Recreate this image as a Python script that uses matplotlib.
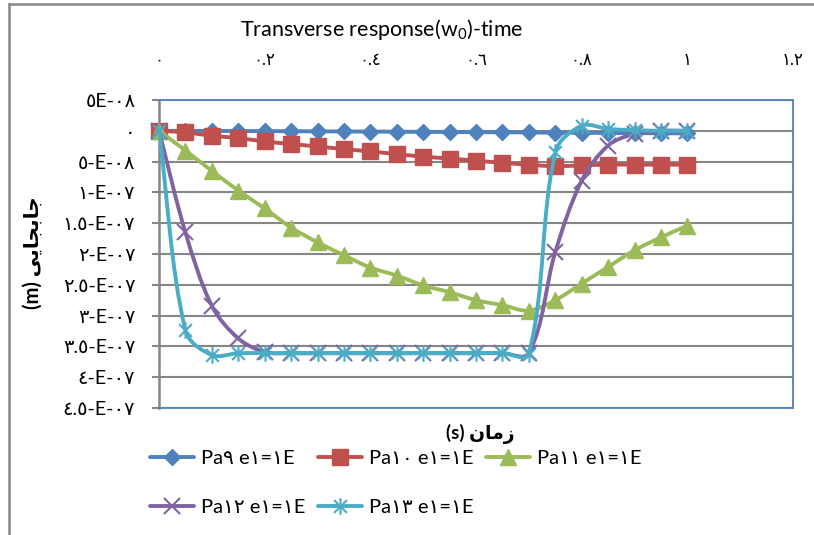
import matplotlib
matplotlib.use('Agg')
import matplotlib.pyplot as plt
from matplotlib.path import Path
from matplotlib.patches import PathPatch
from matplotlib.lines import Line2D
import numpy as np

plt.rcParams['font.family'] = ['Lato', 'DejaVu Sans']
plt.rcParams['mathtext.fontset'] = 'custom'
plt.rcParams['mathtext.rm'] = 'Lato'
plt.rcParams['mathtext.it'] = 'Lato:italic'

# ---------------- data ----------------
time = [0.00, 0.05, 0.10, 0.15, 0.20, 0.25, 0.30, 0.35, 0.40, 0.45, 0.50,
        0.55, 0.60, 0.65, 0.70, 0.75, 0.80, 0.85, 0.90, 0.95, 1.00]

pa9 = [0, -0.1e-9, -0.2e-9, -0.4e-9, -0.5e-9, -0.7e-9, -0.9e-9, -1.1e-9, -1.3e-9, -1.5e-9, -1.7e-9,
       -2.0e-9, -2.2e-9, -2.4e-9, -2.7e-9, -3.0e-9, -3.2e-9, -3.5e-9, -3.8e-9, -4.0e-9, -4.3e-9]
pa10 = [0, -2.7e-9, -8.1e-9, -11.8e-9, -17.3e-9, -21.5e-9, -25.4e-9, -29.7e-9, -33.5e-9, -37.8e-9, -42.0e-9,
        -45.0e-9, -48.5e-9, -52.0e-9, -55.0e-9, -57.5e-9, -56.0e-9, -55.0e-9, -55.0e-9, -55.0e-9, -55.0e-9]
pa11 = [0, -32e-9, -65e-9, -97e-9, -126e-9, -157e-9, -181e-9, -202e-9, -222e-9, -235e-9, -251e-9,
        -262e-9, -275e-9, -283e-9, -292e-9, -275e-9, -248e-9, -221e-9, -194e-9, -173e-9, -154e-9]
pa12 = [0, -165e-9, -284e-9, -337e-9, -359e-9, -361e-9, -361e-9, -361e-9, -361e-9, -361e-9, -361e-9,
        -361e-9, -361e-9, -361e-9, -361e-9, -197e-9, -81e-9, -24e-9, -5e-9, 0, 0]
pa13 = [0, -324e-9, -364e-9, -361e-9, -361e-9, -361e-9, -361e-9, -361e-9, -361e-9, -361e-9, -361e-9,
        -361e-9, -361e-9, -361e-9, -362e-9, -35e-9, 8e-9, 3e-9, 1e-9, 0, 0]

series_values = [pa9, pa10, pa11, pa12, pa13]
series_labels = ['Pa\u0669 e\u0661=\u0661E', 'Pa\u0661\u0660 e\u0661=\u0661E', 'Pa\u0661\u0661 e\u0661=\u0661E',
                 'Pa\u0661\u0662 e\u0661=\u0661E', 'Pa\u0661\u0663 e\u0661=\u0661E']

x_ticks = [0, 0.2, 0.4, 0.6, 0.8, 1.0, 1.2]
x_tick_labels = ['\u0660', '\u0660.\u0662', '\u0660.\u0664', '\u0660.\u0666', '\u0660.\u0668', '\u0661', '\u0661.\u0662']
y_ticks = [5e-8, 0, -5e-8, -1e-7, -1.5e-7, -2e-7, -2.5e-7, -3e-7, -3.5e-7, -4e-7, -4.5e-7]
y_tick_labels = ['\u0665E-\u0660\u0668', '\u0660', '\u0665-E-\u0660\u0668', '\u0661-E-\u0660\u0667',
                 '\u0661.\u0665-E-\u0660\u0667', '\u0662-E-\u0660\u0667', '\u0662.\u0665-E-\u0660\u0667',
                 '\u0663-E-\u0660\u0667', '\u0663.\u0665-E-\u0660\u0667', '\u0664-E-\u0660\u0667',
                 '\u0664.\u0665-E-\u0660\u0667']

title_text = 'Transverse response(w$_{0}$)-time'
# visual (left-to-right) order with Arabic presentation forms
xlabel_text = '(s) \uFEE5\uFE8E\uFEE3\uFEAF'
ylabel_text = '(m) \uFEF0\uFEF3\uFE8E\uFEA0\uFE91\uFE8E\uFE9F'

# ---------------- style ----------------
colors = ['#4F81BD', '#C0504D', '#9BBB59', '#8064A2', '#4BACC6']
star = Path([(-1, -1), (1, 1), (-1, 1), (1, -1), (0, -1.3), (0, 1.3)],
            [Path.MOVETO, Path.LINETO, Path.MOVETO, Path.LINETO, Path.MOVETO, Path.LINETO])
markers = ['D', 's', '^', 'x', star]
msizes = [8.5, 11, 12, 11, 12]
mews = [1, 1, 1, 1.5, 1.5]
LW = 2.8
GRID = '#868686'

W, H = 814, 535
fig = plt.figure(figsize=(W / 100, H / 100), dpi=100)
ax_l, ax_r, ax_t, ax_b = 159, 793, 100, 408
ax = fig.add_axes([ax_l / W, 1 - ax_b / H, (ax_r - ax_l) / W, (ax_b - ax_t) / H])
ax.set_xlim(0, 1.2)
ax.set_ylim(-4.5e-7, 5e-8)

ax.set_yticks(y_ticks)
ax.set_yticklabels(y_tick_labels, fontsize=14)
ax.set_xticks(x_ticks)
ax.set_xticklabels(x_tick_labels, fontsize=12)
ax.xaxis.tick_top()
ax.tick_params(axis='x', length=0, pad=23)
ax.tick_params(axis='y', length=5, width=1.5, color=GRID, pad=12)
ax.yaxis.grid(True, color=GRID, lw=1.5)
ax.set_axisbelow(True)
ax.spines['left'].set_color(GRID)
ax.spines['left'].set_linewidth(1.8)
for s in ['top', 'right', 'bottom']:
    ax.spines[s].set_color('#4F81BD')
    ax.spines[s].set_linewidth(1.3)


def smooth_path(xs, ys, k=0.33):
    pts = ax.transData.transform(np.column_stack([xs, ys]))
    n = len(pts)
    verts = [pts[0]]
    codes = [Path.MOVETO]

    def unit(v):
        nv = np.hypot(v[0], v[1])
        return v / nv if nv > 0 else v * 0

    for i in range(n - 1):
        p0 = pts[i - 1] if i > 0 else pts[i]
        p1 = pts[i]
        p2 = pts[i + 1]
        p3 = pts[i + 2] if i + 2 < n else pts[i + 1]
        seg = np.hypot(*(p2 - p1))
        c1 = p1 + unit(p2 - p0) * seg * k
        c2 = p2 - unit(p3 - p1) * seg * k
        verts += [c1, c2, p2]
        codes += [Path.CURVE4] * 3
    return Path(ax.transData.inverted().transform(np.array(verts)), codes)


handles = []
for i, (vals, c) in enumerate(zip(series_values, colors)):
    z = 3 + i
    patch = PathPatch(smooth_path(time, vals), fill=False, edgecolor=c, lw=LW,
                      capstyle='round', joinstyle='round', zorder=z)
    ax.add_patch(patch)
    ax.plot(time, vals, linestyle='none', marker=markers[i], ms=msizes[i],
            mfc=c, mec=c, mew=mews[i], zorder=z + 0.5, clip_on=False)
    handles.append(Line2D([], [], color=c, lw=LW, marker=markers[i], ms=msizes[i],
                          mfc=c, mec=c, mew=mews[i], solid_capstyle='round'))

# legend: row-major order for 3 columns
order = [0, 3, 1, 4, 2]
leg = fig.legend([handles[j] for j in order], [series_labels[j] for j in order],
                 ncol=3, loc='upper left', bbox_to_anchor=(150 / W, 1 - 450 / H),
                 frameon=False, fontsize=14.5, handlelength=2.2, handletextpad=0.35,
                 columnspacing=0.6, labelspacing=1.6, borderpad=0, borderaxespad=0)

fig.text(382 / W, 1 - 30 / H, title_text, ha='center', va='center', fontsize=15.5)
fig.text(480 / W, 1 - 434 / H, xlabel_text, ha='center', va='center', fontsize=13.5,
         fontweight='bold')
fig.text(33 / W, 1 - 253 / H, ylabel_text, ha='center', va='center', fontsize=14.5,
         fontweight='bold', rotation=90)

# outer chart border (left & top visible)
fig.add_artist(Line2D([9 / W, 9 / W], [0, 1 - 4 / H], color=GRID, lw=1.8,
                      transform=fig.transFigure))
fig.add_artist(Line2D([9 / W, 1], [1 - 4 / H, 1 - 4 / H], color=GRID, lw=1.8,
                      transform=fig.transFigure))

fig.savefig('out.png', dpi=100)
